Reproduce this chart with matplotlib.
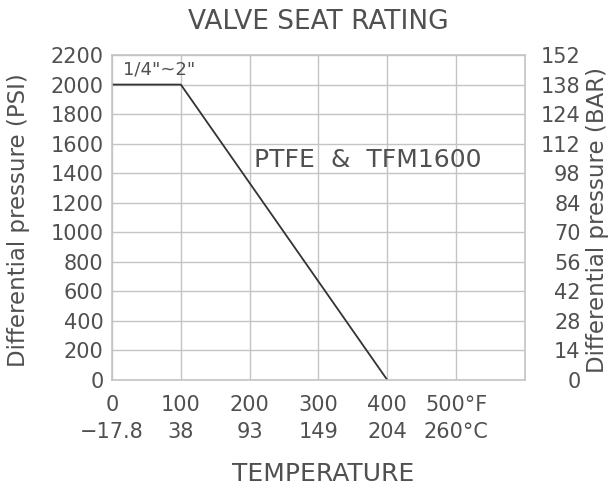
import matplotlib
matplotlib.use("Agg")
import matplotlib.pyplot as plt

# data
temp_f = [0, 100, 400]
pressure_psi = [2000, 2000, 0]

x_ticks = [0, 100, 200, 300, 400, 500]
x_labels_f = ["0", "100", "200", "300", "400", "500°F"]
x_labels_c = ["−17.8", "38", "93", "149", "204", "260°C"]

psi_ticks = [0, 200, 400, 600, 800, 1000, 1200, 1400, 1600, 1800, 2000, 2200]
bar_labels = ["0", "14", "28", "42", "56", "70", "84", "98", "112", "124", "138", "152"]

text_color = "#505050"
grid_color = "#c4c4c4"

plt.rcParams["font.family"] = ["DejaVu Sans"]

fig = plt.figure(figsize=(6.13, 4.87), dpi=100)
ax = fig.add_axes([0.1827, 0.2197, 0.6737, 0.6673])

ax.plot(temp_f, pressure_psi, color="#333333", linewidth=1.3)

ax.set_xlim(0, 600)
ax.set_ylim(0, 2200)

# two-row x tick labels: Fahrenheit over Celsius
ax.set_xticks(x_ticks)
ax.set_xticklabels([f + "\n" + c for f, c in zip(x_labels_f, x_labels_c)],
                   fontsize=15, color=text_color, linespacing=1.4)
ax.set_yticks(psi_ticks)
ax.set_yticklabels([str(v) for v in psi_ticks], fontsize=15, color=text_color)
ax.tick_params(axis="y", length=0, pad=6)
ax.tick_params(axis="x", length=0, pad=11)

ax.grid(True, color=grid_color, linewidth=1.0)
for s in ax.spines.values():
    s.set_color(grid_color)
    s.set_linewidth(1.2)

# right axis in bar
ax2 = ax.twinx()
ax2.set_ylim(ax.get_ylim())
ax2.set_yticks(psi_ticks)
ax2.set_yticklabels(bar_labels, fontsize=15, color=text_color, ha="right")
ax2.tick_params(length=0, pad=40)
for s in ax2.spines.values():
    s.set_visible(False)

ax.text(16, 2100, '1/4"~2"', fontsize=13, color=text_color, va="center")
ax.text(206, 1490, "PTFE  &  TFM1600", fontsize=18, color=text_color, va="center")

fig.text(0.52, 0.955, "VALVE SEAT RATING", fontsize=19, color=text_color,
         ha="center", va="center")
fig.text(0.527, 0.027, "TEMPERATURE", fontsize=18, color=text_color,
         ha="center", va="center")
fig.text(0.03, 0.548, "Differential pressure (PSI)", fontsize=16.5,
         color=text_color, rotation=90, ha="center", va="center")
fig.text(0.974, 0.548, "Differential pressure (BAR)", fontsize=16.5,
         color=text_color, rotation=90, ha="center", va="center")

fig.savefig("out.png", dpi=100)
